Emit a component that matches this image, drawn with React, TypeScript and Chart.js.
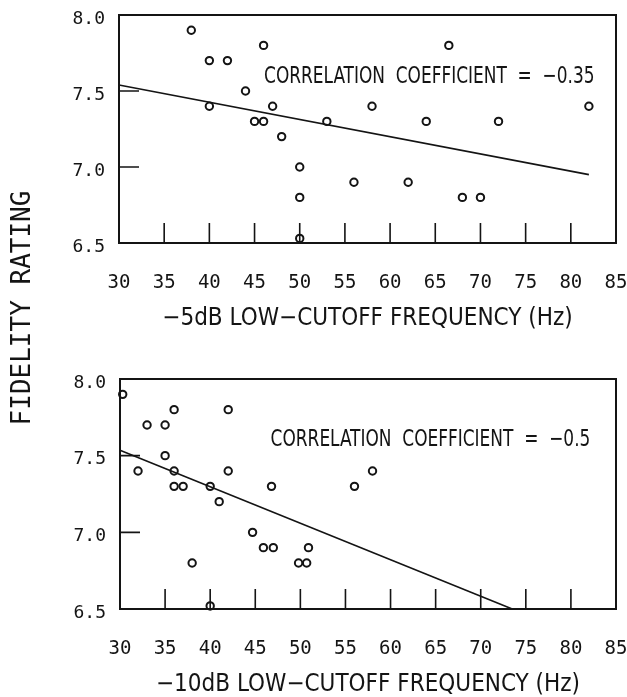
import React, { useEffect, useRef } from "react";
import { Chart, registerables } from "chart.js";

Chart.register(...registerables);

// ---------- data ----------
const xTickMin = 30;
const xTickMax = 85;
const xTickStep = 5;
const yTickMin = 6.5;
const yTickMax = 8.0;
const yTickStep = 0.5;

// -5 dB panel
const topFreq = [38, 40, 42, 46, 66.5, 44, 40, 47, 58, 82, 45, 46, 53, 64, 72, 48, 50, 50, 56, 62, 68, 70, 50];
const topRating = [7.9, 7.7, 7.7, 7.8, 7.8, 7.5, 7.4, 7.4, 7.4, 7.4, 7.3, 7.3, 7.3, 7.3, 7.3, 7.2, 7.0, 6.8, 6.9, 6.9, 6.8, 6.8, 6.53];
const topFitFreq = [30, 82];
const topFitRating = [7.54, 6.95];
const topTitle = "\u22125dB LOW\u2212CUTOFF FREQUENCY (Hz)";
const topCorrText = "CORRELATION  COEFFICIENT  =  \u22120.35";

// -10 dB panel
const bottomFreq = [30.3, 32, 33, 35, 35, 36, 36, 36, 37, 38, 40, 40, 41, 42, 42, 44.7, 45.9, 47, 46.8, 49.8, 50.7, 50.9, 56, 58];
const bottomRating = [7.9, 7.4, 7.7, 7.7, 7.5, 7.8, 7.4, 7.3, 7.3, 6.8, 7.3, 6.52, 7.2, 7.8, 7.4, 7.0, 6.9, 6.9, 7.3, 6.8, 6.8, 6.9, 7.3, 7.4];
const bottomFitFreq = [30, 73.5];
const bottomFitRating = [7.535, 6.5];
const bottomTitle = "\u221210dB LOW\u2212CUTOFF FREQUENCY (Hz)";
const bottomCorrText = "CORRELATION  COEFFICIENT  =  \u22120.5";

const sharedYLabel = "FIDELITY RATING";
const innerTickValuesX = [35, 40, 45, 50, 55, 60, 65, 70, 75, 80];
const innerTickValuesY = [7.0, 7.5];

// ---------- styles ----------
const INK = "#141414";
const W = 627;
const H = 697;
const FONT_MONO = '"DejaVu Sans Mono", "Liberation Mono", monospace';
const FONT_NARROW = '"DejaVu Sans Condensed", "DejaVu Sans", sans-serif';

type Panel = {
  freq: number[];
  rating: number[];
  fitX: number[];
  fitY: number[];
  title: string;
  corr: string;
  corrX: number;
  corrY: number;
  padTop: number;
  padBottom: number;
  yAxisWidth: number;
  sharedLabel: boolean;
};

const panels: Panel[] = [
  {
    freq: topFreq, rating: topRating, fitX: topFitFreq, fitY: topFitRating,
    title: topTitle, corr: topCorrText, corrX: 46.05, corrY: 7.59,
    padTop: 15, padBottom: 366, yAxisWidth: 119, sharedLabel: true,
  },
  {
    freq: bottomFreq, rating: bottomRating, fitX: bottomFitFreq, fitY: bottomFitRating,
    title: bottomTitle, corr: bottomCorrText, corrX: 46.7, corrY: 7.6,
    padTop: 379, padBottom: 0, yAxisWidth: 120, sharedLabel: false,
  },
];

const framePlugin = {
  id: "frame",
  afterDatasetsDraw(chart: any) {
    const { ctx, chartArea: a, scales } = chart;
    ctx.save();
    ctx.strokeStyle = INK;
    ctx.lineWidth = 2;
    ctx.strokeRect(a.left, a.top, a.right - a.left, a.bottom - a.top);
    ctx.lineWidth = 1.6;
    ctx.beginPath();
    innerTickValuesX.forEach((v) => {
      const px = scales.x.getPixelForValue(v);
      ctx.moveTo(px, a.bottom);
      ctx.lineTo(px, a.bottom - 20);
    });
    innerTickValuesY.forEach((v) => {
      const py = scales.y.getPixelForValue(v);
      ctx.moveTo(a.left, py);
      ctx.lineTo(a.left + 20, py);
    });
    ctx.stroke();
    ctx.restore();
  },
};

const corrPlugin = {
  id: "corr",
  afterDraw(chart: any, _args: any, opts: any) {
    if (!opts || !opts.text) return;
    const { ctx, scales } = chart;
    ctx.save();
    ctx.fillStyle = INK;
    ctx.font = `23px ${FONT_NARROW}`;
    ctx.textAlign = "left";
    ctx.textBaseline = "middle";
    ctx.translate(scales.x.getPixelForValue(opts.x), scales.y.getPixelForValue(opts.y));
    ctx.scale(0.82, 1);
    ctx.fillText(opts.text, 0, 0);
    ctx.restore();
  },
};

const sharedLabelPlugin = {
  id: "sharedLabel",
  afterDraw(chart: any, _args: any, opts: any) {
    if (!opts || !opts.text) return;
    const { ctx } = chart;
    ctx.save();
    ctx.translate(23, 308);
    ctx.rotate(-Math.PI / 2);
    ctx.fillStyle = INK;
    ctx.font = `26px ${FONT_MONO}`;
    ctx.textAlign = "center";
    ctx.textBaseline = "middle";
    ctx.fillText(opts.text, 0, 0);
    ctx.restore();
  },
};

function makeConfig(p: Panel): any {
  const points = p.freq.map((x, i) => ({ x, y: p.rating[i] }));
  const fit = p.fitX.map((x, i) => ({ x, y: p.fitY[i] }));
  return {
    type: "scatter",
    data: {
      datasets: [
        {
          type: "scatter",
          data: points,
          pointStyle: "circle",
          pointRadius: 3.7,
          pointBorderWidth: 2,
          borderColor: INK,
          backgroundColor: "rgba(0,0,0,0)",
          clip: false,
        },
        {
          type: "line",
          data: fit,
          borderColor: INK,
          borderWidth: 1.6,
          pointRadius: 0,
          fill: false,
          tension: 0,
          clip: false,
        },
      ],
    },
    options: {
      responsive: false,
      animation: false,
      devicePixelRatio: 1,
      events: [],
      layout: { padding: { top: p.padTop, bottom: p.padBottom, left: 0, right: 11 } },
      plugins: {
        legend: { display: false },
        tooltip: { enabled: false },
        corr: { text: p.corr, x: p.corrX, y: p.corrY },
        sharedLabel: { text: p.sharedLabel ? sharedYLabel : "" },
      },
      scales: {
        x: {
          type: "linear",
          position: "bottom",
          min: xTickMin,
          max: xTickMax,
          grid: { display: false, drawTicks: false },
          border: { display: false },
          ticks: {
            stepSize: xTickStep,
            autoSkip: false,
            maxRotation: 0,
            padding: 29,
            color: INK,
            font: { family: FONT_MONO, size: 19 },
            callback: (v: number) => String(v),
          },
          title: {
            display: true,
            text: p.title,
            color: INK,
            padding: 0,
            font: { family: FONT_NARROW, size: 24, lineHeight: 1 },
          },
          afterFit: (s: any) => {
            s.height = 88;
            s.paddingLeft = 0;
            s.paddingRight = 0;
          },
        },
        y: {
          type: "linear",
          min: yTickMin,
          max: yTickMax,
          grid: { display: false, drawTicks: false },
          border: { display: false },
          ticks: {
            stepSize: yTickStep,
            padding: 14,
            labelOffset: 4,
            color: INK,
            font: { family: FONT_MONO, size: 18 },
            callback: (v: number) => Number(v).toFixed(1),
          },
          afterFit: (s: any) => {
            s.width = p.yAxisWidth;
            s.paddingTop = 0;
            s.paddingBottom = 0;
          },
        },
      },
    },
    plugins: [framePlugin, corrPlugin, sharedLabelPlugin],
  };
}

function PanelCanvas({ panel }: { panel: Panel }) {
  const ref = useRef<HTMLCanvasElement | null>(null);
  useEffect(() => {
    if (!ref.current) return;
    const chart = new Chart(ref.current, makeConfig(panel));
    return () => chart.destroy();
  }, [panel]);
  return (
    <canvas
      ref={ref}
      width={W}
      height={H}
      style={{ position: "absolute", left: 0, top: 0, width: W, height: H }}
    />
  );
}

export default function App() {
  return (
    <div style={{ position: "absolute", left: 0, top: 0, width: W, height: H, background: "#fff", overflow: "hidden" }}>
      {panels.map((p, i) => (
        <PanelCanvas key={i} panel={p} />
      ))}
    </div>
  );
}
